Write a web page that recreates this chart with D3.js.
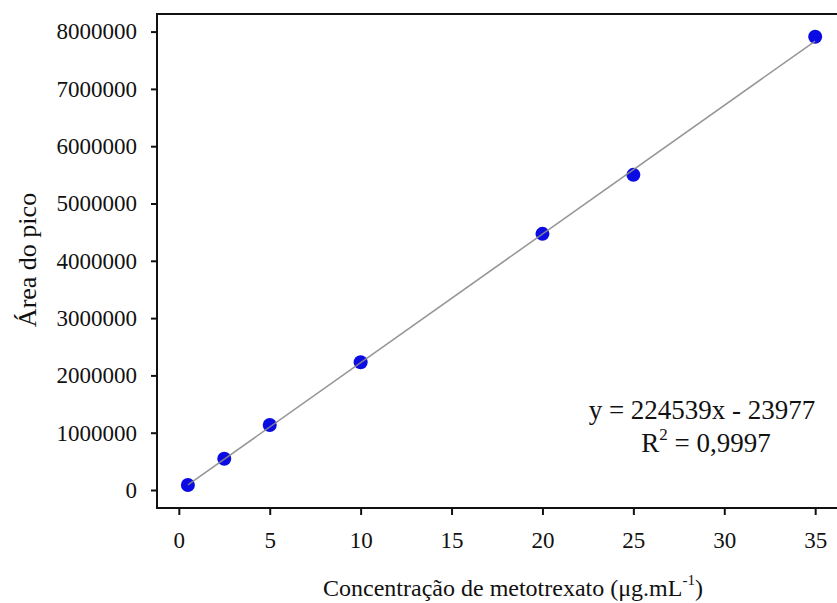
<!DOCTYPE html>
<meta charset="utf-8">
<style>
body { margin: 0; background: #fff; }
text { font-family: "Liberation Serif", "Times New Roman", serif; fill: #111; }
.axis path, .axis line { stroke: #111; stroke-width: 2px; }
</style>
<body>
<script src="https://d3js.org/d3.v7.min.js"></script>
<script>

// concentration (ug/mL) vs peak area
var conc = [0.5, 2.5, 5, 10, 20, 25, 35];
var area = [88000, 545000, 1134000, 2230000, 4470000, 5500000, 7910000];
var xTicks = [0, 5, 10, 15, 20, 25, 30, 35];
var yTicks = [0, 1000000, 2000000, 3000000, 4000000, 5000000, 6000000, 7000000, 8000000];
var slope = 224539, intercept = -23977;

var width = 837, height = 603;
var plotL = 157, plotR = 837, plotT = 14, plotB = 508;

var svg = d3.select("body").append("svg")
    .attr("width", width)
    .attr("height", height);

var x = d3.scaleLinear().domain([-1.2, 36.2]).range([plotL, plotR]);
var y = d3.scaleLinear().domain([-314000, 8307000]).range([plotB, plotT]);

// frame (right side falls off the picture)
svg.append("path")
    .attr("d", "M" + plotR + "," + plotT + "H" + plotL + "V" + plotB + "H" + plotR)
    .attr("fill", "none")
    .attr("stroke", "#111")
    .attr("stroke-width", 2);

var gx = svg.append("g")
    .attr("class", "axis")
    .attr("transform", "translate(0," + plotB + ")")
    .call(d3.axisBottom(x).tickValues(xTicks).tickSize(7).tickPadding(17).tickFormat(d3.format("d")));
gx.select(".domain").remove();
gx.selectAll("text").attr("font-size", 23).style("fill", "#111");

var gy = svg.append("g")
    .attr("class", "axis")
    .attr("transform", "translate(" + plotL + ",0)")
    .call(d3.axisLeft(y).tickValues(yTicks).tickSize(6).tickPadding(14).tickFormat(d3.format("d")));
gy.select(".domain").remove();
gy.selectAll("text").attr("font-size", 23).style("fill", "#111");

// points
svg.append("g")
  .selectAll("circle")
  .data(conc)
  .enter().append("circle")
    .attr("cx", function(d) { return x(d); })
    .attr("cy", function(d, i) { return y(area[i]); })
    .attr("r", 7)
    .attr("fill", "#0b0be3");

// fitted line
var xs = [conc[0], conc[conc.length - 1]];
svg.append("line")
    .attr("x1", x(xs[0]))
    .attr("y1", y(slope * xs[0] + intercept))
    .attr("x2", x(xs[1]))
    .attr("y2", y(slope * xs[1] + intercept))
    .attr("stroke", "#8a8a8a")
    .attr("stroke-width", 1.5)
    .attr("stroke-opacity", 0.9);

// equation
var eq = svg.append("g").attr("font-size", 27).attr("text-anchor", "middle");
eq.append("text")
    .attr("x", 702)
    .attr("y", 419)
    .text("y = 224539x - 23977");
var r2 = eq.append("text")
    .attr("x", 706)
    .attr("y", 452);
r2.append("tspan").text("R");
r2.append("tspan").attr("dy", -12).attr("font-size", 17).text("2");
r2.append("tspan").attr("dy", 12).text(" = 0,9997");

// axis titles
var xt = svg.append("text")
    .attr("x", 513)
    .attr("y", 596)
    .attr("font-size", 24)
    .attr("text-anchor", "middle");
xt.append("tspan").text("Concentração de metotrexato (μg.mL");
xt.append("tspan").attr("dy", -11).attr("font-size", 15).text("-1");
xt.append("tspan").attr("dy", 11).text(")");

svg.append("text")
    .attr("transform", "translate(36,260) rotate(-90)")
    .attr("font-size", 26)
    .attr("text-anchor", "middle")
    .text("Área do pico");

</script>
</body>
